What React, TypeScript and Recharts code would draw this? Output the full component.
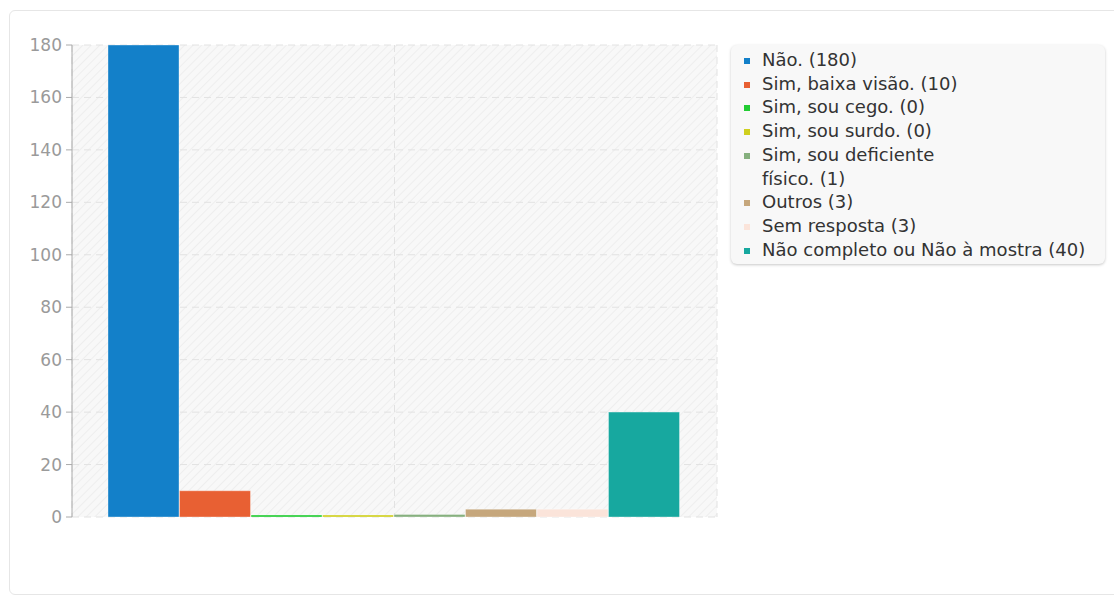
import { BarChart, Bar, XAxis, YAxis, CartesianGrid, Legend } from "recharts";

const seriesKeys = ["nao", "baixaVisao", "cego", "surdo", "fisico", "outros", "semResposta", "naoCompleto"];
const seriesLabels = [
  "Não. (180)",
  "Sim, baixa visão. (10)",
  "Sim, sou cego. (0)",
  "Sim, sou surdo. (0)",
  "Sim, sou deficiente\nfísico. (1)",
  "Outros (3)",
  "Sem resposta (3)",
  "Não completo ou Não à mostra (40)",
];
const seriesValues = [180, 10, 0, 0, 1, 3, 3, 40];
const seriesColors = ["#1380c9", "#e86033", "#22cc33", "#cfcf1f", "#86b07e", "#c6a77c", "#fbe4da", "#17a89f"];
const yTicks = [0, 20, 40, 60, 80, 100, 120, 140, 160, 180];

const row: Record<string, string | number> = { name: "" };
seriesKeys.forEach((k, i) => {
  row[k] = seriesValues[i];
});
const data = [row];

const font = "'DejaVu Sans', Verdana, sans-serif";

function LegendBox() {
  return (
    <div
      style={{
        width: 374,
        background: "#f8f8f8",
        borderRadius: 6,
        boxShadow: "0 1px 3px rgba(0,0,0,0.22)",
        padding: "3px 0",
        fontFamily: font,
        fontSize: 18,
        color: "#333",
        boxSizing: "border-box",
      }}
    >
      {seriesLabels.map((label, i) => (
        <div key={seriesKeys[i]} style={{ display: "flex", alignItems: "flex-start", lineHeight: "23.7px" }}>
          <span
            style={{
              display: "inline-block",
              width: 6,
              height: 6,
              marginLeft: 13,
              marginRight: 12,
              marginTop: 10,
              background: seriesColors[i],
              flex: "none",
            }}
          />
          <span style={{ whiteSpace: "pre-line" }}>{label}</span>
        </div>
      ))}
    </div>
  );
}

export default function App() {
  return (
    <div style={{ position: "absolute", left: 0, top: 0, width: 1114, height: 596, background: "#fff" }}>
      <div
        style={{
          position: "absolute",
          left: 9,
          top: 10,
          width: 1120,
          height: 583,
          border: "1px solid #e6e6e6",
          borderRadius: 6,
        }}
      />
      <div style={{ position: "absolute", left: 0, top: 0 }}>
        <BarChart
          width={1114}
          height={596}
          data={data}
          margin={{ top: 45, right: 397, bottom: 79, left: 12 }}
          barCategoryGap={36}
          barGap={0.5}
        >
          <defs>
            <pattern id="hatch" patternUnits="userSpaceOnUse" width="6" height="6" patternTransform="rotate(45)">
              <rect width="6" height="6" fill="#f8f8f8" />
              <line x1="0" y1="0" x2="0" y2="6" stroke="#ebebeb" strokeWidth="1.5" />
            </pattern>
          </defs>
          <CartesianGrid fill="url(#hatch)" stroke="#e2e2e2" strokeDasharray="7 5" />
          <XAxis
            dataKey="name"
            height={0}
            tick={{ fill: "none", fontSize: 1 }}
            tickLine={false}
            axisLine={{ stroke: "#aaa" }}
          />
          <YAxis
            width={60}
            domain={[0, 180]}
            ticks={yTicks}
            interval={0}
            tickSize={6}
            tickMargin={4}
            tickLine={{ stroke: "#aaa" }}
            axisLine={{ stroke: "#aaa" }}
            tick={{ fontSize: 17, fill: "#9a9a9a", fontFamily: font }}
          />
          <Legend
            layout="horizontal"
            verticalAlign="middle"
            align="center"
            content={() => <LegendBox />}
            wrapperStyle={{ left: 731, top: 45, width: 374 }}
          />
          {seriesKeys.map((k, i) => (
            <Bar
              key={k}
              dataKey={k}
              name={seriesLabels[i]}
              fill={seriesColors[i]}
              stroke="#ffffff"
              strokeOpacity={0.35}
              strokeWidth={1}
              minPointSize={2}
              isAnimationActive={false}
            />
          ))}
        </BarChart>
      </div>
    </div>
  );
}
